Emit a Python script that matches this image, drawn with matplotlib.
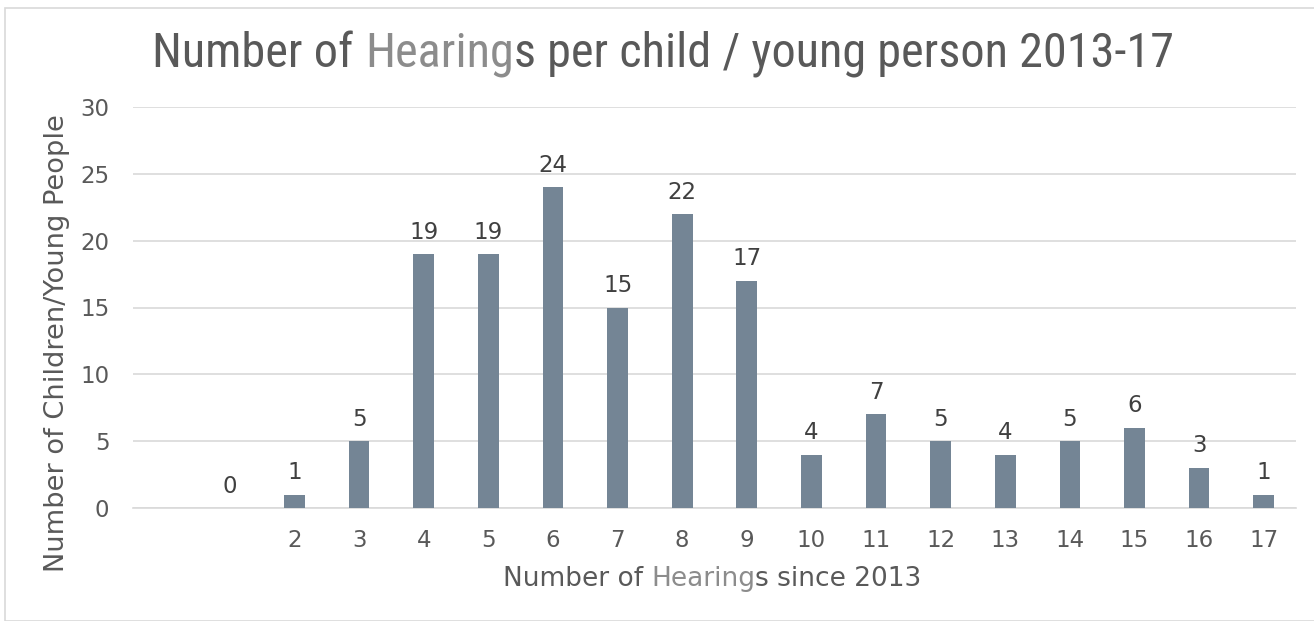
import matplotlib
matplotlib.use("Agg")
import matplotlib.pyplot as plt
from matplotlib import font_manager
from matplotlib.patches import Rectangle
import numpy as np

categories = ["", "", "2", "3", "4", "5", "6", "7", "8", "9", "10",
              "11", "12", "13", "14", "15", "16", "17"]
values = [None, 0, 1, 5, 19, 19, 24, 15, 22, 17, 4, 7, 5, 4, 5, 6, 3, 1]
yticks = [0, 5, 10, 15, 20, 25, 30]

title_parts = [("Number of ", "#595959"), ("Hearing", "#8c8c8c"),
               ("s per child / young person 2013-17", "#595959")]
xlabel_parts = [("Number of ", "#595959"), ("Hearing", "#8c8c8c"),
                ("s since 2013", "#595959")]
ylabel = "Number of Children/Young People"

BAR = "#748595"
TXT = "#595959"
LBL = "#404040"
GRID = "#d9d9d9"

names = {f.name for f in font_manager.fontManager.ttflist}
cond_family = None
for cand in ["Roboto Condensed", "IBM Plex Sans Condensed", "Open Sans"]:
    if cand in names:
        cond_family = cand
        break
title_font = dict(family=[cond_family or "DejaVu Sans", "DejaVu Sans"], weight="normal")
if cond_family == "Open Sans":
    title_font["stretch"] = "condensed"

plt.rcParams["font.family"] = ["DejaVu Sans"]

fig = plt.figure(figsize=(13.14, 6.21), dpi=100)
fig.patch.set_facecolor("white")
W, H = 1314, 621
fig.patches.append(Rectangle((5 / W, 0), 1.5, 1 - 8 / H, transform=fig.transFigure,
                             fill=False, edgecolor="#d9d9d9", linewidth=1.2))

ax = fig.add_axes([133 / W, 1 - 508 / H, (1296 - 133) / W, (508 - 107) / H])
x = np.arange(len(categories))
vals = np.array([np.nan if v is None else v for v in values], dtype=float)
ax.bar(x, np.nan_to_num(vals), width=0.32, color=BAR, zorder=3)
for xi, v in zip(x, values):
    if v is None:
        continue
    ax.annotate(str(v), (xi, v), xytext=(0, 7.5), textcoords="offset points",
                ha="center", va="bottom", fontsize=16.5, color=LBL)

ax.set_xlim(-0.5, len(categories) - 0.5)
ax.set_ylim(0, 30)
ax.set_yticks(yticks)
ax.set_xticks(x)
ax.set_xticklabels(categories)
ax.grid(axis="y", color=GRID, linewidth=1.2, zorder=0)
for s in ["top", "right", "left"]:
    ax.spines[s].set_visible(False)
ax.spines["bottom"].set_color(GRID)
ax.spines["bottom"].set_linewidth(1.2)
ax.tick_params(axis="both", length=0, labelsize=16.5, colors=TXT)
ax.tick_params(axis="y", pad=17)
ax.tick_params(axis="x", pad=15)

fig.canvas.draw()
renderer = fig.canvas.get_renderer()


def multicolor(parts, cx, cy, target_w, size, **kw):
    texts = []
    for s, c in parts:
        t = fig.text(0, cy, s, color=c, va="center", ha="left", fontsize=size, **kw)
        texts.append(t)
    total = sum(t.get_window_extent(renderer).width for t in texts)
    scale = target_w / total
    for t in texts:
        t.set_fontsize(size * scale)
    widths = [t.get_window_extent(renderer).width for t in texts]
    pos = cx * W - sum(widths) / 2
    for t, w in zip(texts, widths):
        t.set_x(pos / W)
        pos += w


multicolor(title_parts, 663 / W, 1 - 54 / H, 1020, 22, **title_font)
multicolor(xlabel_parts, 712 / W, 1 - 579 / H, 419, 19)
fig.text(57 / W, 1 - 343 / H, ylabel, rotation=90, ha="center", va="center",
         fontsize=19.6, color=TXT)

fig.savefig("out.png", dpi=100, facecolor="white")
